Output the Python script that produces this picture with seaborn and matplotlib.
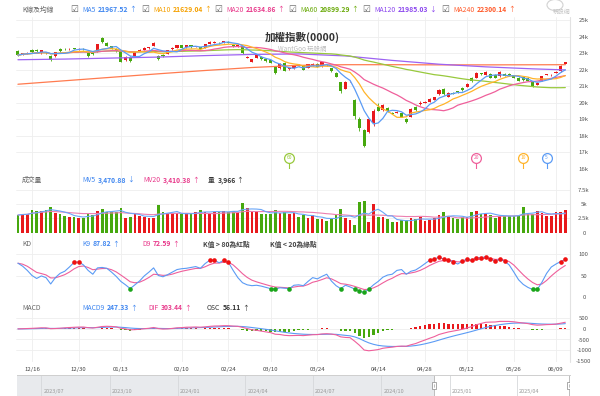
import numpy as np
import pandas as pd
import matplotlib
matplotlib.use("Agg")
import matplotlib.pyplot as plt
import matplotlib.transforms as mtransforms
from matplotlib.patches import Rectangle, Ellipse
import seaborn as sns

# 加權指數 daily bars
dates = [
    "2024-12-11", "2024-12-12", "2024-12-13", "2024-12-16", "2024-12-17", "2024-12-18", "2024-12-19", "2024-12-20",
    "2024-12-23", "2024-12-24", "2024-12-25", "2024-12-26", "2024-12-27", "2024-12-30", "2024-12-31",
    "2025-01-02", "2025-01-03", "2025-01-06", "2025-01-07", "2025-01-08", "2025-01-09", "2025-01-10",
    "2025-01-13", "2025-01-14", "2025-01-15", "2025-01-16", "2025-01-17", "2025-01-20", "2025-01-21", "2025-01-22",
    "2025-02-03", "2025-02-04", "2025-02-05", "2025-02-06", "2025-02-07", "2025-02-10", "2025-02-11", "2025-02-12",
    "2025-02-13", "2025-02-14", "2025-02-17", "2025-02-18", "2025-02-19", "2025-02-20", "2025-02-21",
    "2025-02-24", "2025-02-25", "2025-02-26", "2025-02-27",
    "2025-03-03", "2025-03-04", "2025-03-05", "2025-03-06", "2025-03-07", "2025-03-10", "2025-03-11", "2025-03-12",
    "2025-03-13", "2025-03-14", "2025-03-17", "2025-03-18", "2025-03-19", "2025-03-20", "2025-03-21",
    "2025-03-24", "2025-03-25", "2025-03-26", "2025-03-27", "2025-03-28", "2025-03-31",
    "2025-04-01", "2025-04-02", "2025-04-07", "2025-04-08", "2025-04-09", "2025-04-10", "2025-04-11",
    "2025-04-14", "2025-04-15", "2025-04-16", "2025-04-17", "2025-04-18", "2025-04-21", "2025-04-22",
    "2025-04-23", "2025-04-24", "2025-04-25", "2025-04-28", "2025-04-29", "2025-04-30",
    "2025-05-02", "2025-05-05", "2025-05-06", "2025-05-07", "2025-05-08", "2025-05-09", "2025-05-12",
    "2025-05-13", "2025-05-14", "2025-05-15", "2025-05-16", "2025-05-19", "2025-05-20", "2025-05-21",
    "2025-05-22", "2025-05-23", "2025-05-26", "2025-05-27", "2025-05-28", "2025-05-29",
    "2025-06-02", "2025-06-03", "2025-06-04", "2025-06-05", "2025-06-06", "2025-06-09", "2025-06-10", "2025-06-11",
]

open_ = [
    23120, 22900, 22960, 23200, 23180, 22980, 23050, 22820, 22820, 23260,
    23250, 23220, 23260, 23230, 23260, 23000, 23020, 23080, 23900, 23620,
    23400, 23250, 23060, 22560, 22760, 22800, 23150, 23200, 23300, 23430,
    22850, 22880, 22950, 23230, 23320, 23460, 23340, 23480, 23380, 23360,
    23300, 23560, 23640, 23640, 23610, 23700, 23520, 23380, 23420, 22720,
    22480, 22700, 22760, 22640, 22560, 22200, 22080, 22400, 22020, 22080,
    22280, 22260, 22100, 22260, 22360, 22200, 22300, 22100, 21820, 21260,
    20860, 21290, 20150, 19050, 18350, 18250, 18750, 19760, 19560, 19700,
    19370, 19400, 19360, 19020, 19160, 19760, 19950, 20000, 20060, 20180,
    20520, 20850, 20360, 20600, 20700, 20900, 20960, 21510, 21520, 21780,
    21700, 21760, 21700, 21600, 21760, 21760, 21660, 21520, 21540, 21520,
    21260, 21100, 21320, 21680, 21660, 21800, 21900, 22360,
]
high = [
    23180, 23020, 23060, 23240, 23220, 23200, 23080, 22860, 23060, 23290,
    23280, 23290, 23300, 23300, 23290, 23050, 23060, 23580, 23980, 23660,
    23430, 23290, 23080, 22820, 22800, 23070, 23220, 23350, 23360, 23680,
    22900, 22920, 23190, 23360, 23510, 23490, 23510, 23510, 23450, 23390,
    23570, 23740, 23720, 23680, 23760, 23740, 23550, 23500, 23450, 22840,
    22660, 22900, 22800, 22680, 22600, 22250, 22380, 22460, 22130, 22290,
    22320, 22290, 22350, 22380, 22390, 22470, 22340, 22130, 21850, 21280,
    21300, 21340, 20200, 19150, 18420, 19050, 19600, 20000, 19900, 19740,
    19420, 19480, 19400, 19060, 19690, 19800, 20100, 20100, 20280, 20350,
    20830, 20880, 20660, 20640, 20740, 20940, 21180, 21540, 21830, 21820,
    21900, 21790, 21730, 21890, 21790, 21790, 21690, 21550, 21570, 21550,
    21280, 21240, 21630, 21760, 21720, 21900, 22280, 22480,
]
low = [
    22840, 22860, 22920, 23000, 23060, 22950, 22960, 22520, 22780, 23090,
    23190, 23200, 23220, 23210, 23190, 22790, 22880, 23060, 23620, 23400,
    23230, 23060, 22440, 22530, 22480, 22780, 23120, 23180, 23270, 23410,
    22580, 22740, 22920, 23210, 23300, 23300, 23320, 23330, 23350, 23210,
    23280, 23540, 23620, 23570, 23590, 23590, 23390, 23350, 22960, 22680,
    22440, 22680, 22590, 22490, 22400, 21740, 22040, 21900, 21980, 22050,
    22210, 21970, 22080, 22230, 22150, 22180, 22220, 21870, 21540, 20620,
    20820, 21240, 19050, 18300, 17300, 18200, 18600, 19480, 19520, 19440,
    19300, 19360, 19120, 18780, 19130, 19520, 19850, 19960, 20030, 20150,
    20490, 20480, 20320, 20500, 20600, 20740, 20930, 21280, 21490, 21700,
    21670, 21470, 21470, 21570, 21590, 21630, 21490, 21290, 21330, 21290,
    20950, 21080, 21300, 21650, 21630, 21770, 21880, 22340,
]
close = [
    22880, 22980, 23020, 23040, 23100, 23160, 23000, 22560, 23040, 23120,
    23220, 23260, 23250, 23270, 23220, 22830, 22920, 23540, 23650, 23440,
    23260, 23100, 22480, 22780, 22520, 23040, 23180, 23320, 23320, 23600,
    22620, 22800, 23160, 23330, 23480, 23330, 23480, 23360, 23420, 23240,
    23540, 23700, 23680, 23600, 23730, 23620, 23420, 23470, 23000, 22780,
    22620, 22860, 22620, 22520, 22430, 21780, 22340, 21940, 22080, 22260,
    22250, 22000, 22320, 22340, 22180, 22440, 22260, 21900, 21580, 20700,
    21260, 21300, 19230, 18460, 17390, 19000, 19530, 19520, 19850, 19480,
    19350, 19430, 19160, 18830, 19650, 19560, 20000, 20060, 20250, 20320,
    20790, 20520, 20610, 20540, 20640, 20780, 21150, 21320, 21800, 21740,
    21860, 21500, 21500, 21860, 21620, 21660, 21520, 21320, 21360, 21320,
    20990, 21200, 21600, 21720, 21680, 21860, 22250, 22440,
]
# 成交量 (億)
volume = [
    3100, 3290, 3290, 4000, 3880, 3880, 4000, 4500, 3400, 3230,
    2940, 2820, 2700, 2640, 2640, 3520, 3100, 3880, 4170, 3700,
    3700, 3580, 4300, 2640, 2820, 3230, 3000, 2820, 2530, 2640,
    4880, 3700, 3400, 3230, 3400, 3230, 3400, 3400, 3700, 4000,
    3700, 3400, 3700, 3700, 3820, 3700, 3820, 3700, 5170, 4300,
    3880, 3700, 3290, 3290, 3290, 4000, 3400, 3580, 3230, 3400,
    2840, 3100, 2650, 3100, 2400, 2400, 2050, 2530, 3100, 4170,
    2650, 2230, 1350, 5350, 5570, 1840, 5000, 2840, 2700, 2400,
    1840, 1840, 2230, 2230, 2530, 2400, 2700, 2050, 2230, 2530,
    3100, 3700, 2840, 2650, 2400, 2840, 2840, 3700, 3880, 3240,
    3240, 3100, 2650, 3000, 2940, 3000, 3000, 3000, 4470, 3400,
    3300, 3820, 3400, 3000, 2900, 3700, 3700, 3966,
]
# K9 as drawn on the chart
k9 = [
    79, 72, 62, 50, 43, 49, 45, 30, 45, 55,
    60, 70, 81, 82, 75, 62, 53, 68, 69, 67,
    58, 48, 36, 28, 19, 28, 37, 49, 58, 68,
    50, 47, 52, 58, 64, 66, 67, 69, 71, 67,
    78, 86, 86, 80, 86, 81, 62, 45, 33, 28,
    26, 27, 25, 22, 19, 18, 21, 20, 19, 27,
    28, 26, 36, 45, 42, 48, 53, 37, 26, 19,
    27, 23, 18, 13, 10, 18, 28, 36, 46, 51,
    53, 62, 64, 53, 60, 63, 70, 78, 86, 89,
    93, 89, 86, 83, 77, 84, 89, 86, 92, 92,
    94, 89, 84, 88, 84, 75, 58, 40, 29, 22,
    17, 17, 34, 55, 70, 77, 83, 87.82,
]

# MA120 / MA240 read every 10 bars (their history starts before the window)
ma120_pts = [22600, 22640, 22700, 22760, 22850, 22920, 22950, 22830, 22560, 22330, 22170, 22050, 21985]
ma240_pts = [21120, 21330, 21540, 21750, 21950, 22130, 22260, 22300, 22300, 22290, 22290, 22295, 22300]

tick_dates = ["2024-12-16", "2024-12-30", "2025-01-13", "2025-02-10", "2025-02-24", "2025-03-10",
              "2025-03-24", "2025-04-14", "2025-04-28", "2025-05-12", "2025-05-26", "2025-06-09"]

ma_names = ["MA5", "MA10", "MA20", "MA60", "MA120", "MA240"]
ma_values = ["21967.52", "21629.04", "21634.86", "20899.29", "21985.03", "22300.14"]
ma_trend = ["↑", "↑", "↑", "↑", "↓", "↑"]
vol_names = ["MV5", "MV20", "量"]
vol_values = ["3,470.88", "3,410.38", "3,966"]
vol_trend = ["↓", "↑", "↑"]
kd_names = ["K9", "D9"]
kd_values = ["87.82", "72.59"]
kd_trend = ["↑", "↑"]
macd_names = ["MACD9", "DIF", "OSC"]
macd_values = ["247.33", "303.44", "56.11"]
macd_trend = ["↑", "↑", "↑"]
deduct_windows = [60, 20, 10, 5]

nav_range = ["2023-05-29", "2025-06-12"]
nav_labels = ["2023/07", "2023/10", "2024/01", "2024/04", "2024/07", "2024/10", "2025/01", "2025/04"]

# ---- style ----
sns.set_theme(style="white")
plt.rcParams["font.family"] = ["Noto Sans CJK TC", "DejaVu Sans"]
plt.rcParams["axes.unicode_minus"] = False

RED, GREEN = "#e8191c", "#46a80e"
line_col = {"MA5": "#5b9bf5", "MA10": "#ffb42a", "MA20": "#ef5f9b", "MA60": "#98c93c",
            "MA120": "#9d63f2", "MA240": "#ff7b4f"}
text_col = {"MA5": "#3d85f0", "MA10": "#f5a000", "MA20": "#e8388a", "MA60": "#6aaa0a",
            "MA120": "#8a45ee", "MA240": "#ff5a2a"}
BLUE, PINK, DARK = "#3d85f0", "#e8388a", "#333333"
HEAD = 4.9

# ---- indicators ----
df = pd.DataFrame({"date": pd.to_datetime(dates), "open": open_, "high": high,
                   "low": low, "close": close, "volume": volume, "K": k9})
n = len(df)
df["x"] = np.arange(n)
df["up"] = df["close"] >= df["open"]
for w in (5, 10, 20, 60):
    df[f"MA{w}"] = df["close"].rolling(w, min_periods=1).mean()
long_ma = pd.DataFrame({"x": list(range(0, n, 10)) + [n - 1], "MA120": ma120_pts, "MA240": ma240_pts})

df["MV5"] = df["volume"].rolling(5, min_periods=1).mean()
df["MV20"] = df["volume"].rolling(20, min_periods=1).mean()

df["D"] = df["K"].ewm(alpha=1 / 3, adjust=False).mean()

ema12 = df["close"].ewm(span=12, adjust=False).mean()
ema26 = df["close"].ewm(span=26, adjust=False).mean()
df["DIF"] = ema12 - ema26
df["MACD"] = df["DIF"].ewm(span=9, adjust=False).mean()
df["OSC"] = df["DIF"] - df["MACD"]

tick_idx = [dates.index(t) for t in tick_dates]
tick_lab = [t[5:].replace("-", "/") for t in tick_dates]

# ---- figure ----
W, H = 600, 396
L, R = 15.6, 570.0
XMIN, XMAX = -0.5, n
fig = plt.figure(figsize=(6, 3.96), dpi=100)
fig.patch.set_facecolor("white")


def rect(top, bottom, left=L, right=R):
    return [left / W, 1 - bottom / H, (right - left) / W, (bottom - top) / H]


def ftext(x, y, s, color="#666666", bold=False, size=HEAD, **kw):
    return fig.text(x / W, 1 - y / H, s, color=color, fontsize=size,
                    fontweight="bold" if bold else "normal", va="center", ha="left", **kw)


bg = fig.add_axes(rect(17, 362))
bg.set_xlim(XMIN, XMAX)
bg.set_ylim(0, 1)
bg.axis("off")
for i in tick_idx:
    bg.axvline(i, color="#eeeeee", lw=0.6)
bg.axvline(XMAX, color="#e2e2e2", lw=0.8, clip_on=False)


def panel(top, bottom, ticks, labels, ylim):
    ax = fig.add_axes(rect(top, bottom))
    ax.set_facecolor("none")
    ax.set_xlim(XMIN, XMAX)
    ax.set_ylim(*ylim)
    ax.set_yticks(ticks, labels=labels)
    ax.yaxis.tick_right()
    ax.tick_params(axis="y", length=0, pad=10, labelsize=4.3, labelcolor="#555555")
    ax.tick_params(axis="x", length=0, labelbottom=False)
    ax.set_xticks([])
    ax.grid(axis="y", color="#eeeeee", lw=0.6)
    for s in ax.spines.values():
        s.set_visible(False)
    plt.setp(ax.get_yticklabels(), ha="center")
    return ax


# price panel
price_ticks = list(range(16000, 25001, 1000))
ax_p = panel(20, 169, price_ticks, [f"{v // 1000}k" for v in price_ticks], (16000, 25000))
cols = np.where(df["up"], RED, GREEN)
body_lo = np.minimum(df["open"], df["close"])
body_h = np.maximum((df["close"] - df["open"]).abs(), 40)
ax_p.vlines(df["x"], df["low"], df["high"], colors=cols, lw=0.6, zorder=2)
ax_p.bar(df["x"], body_h, bottom=body_lo, width=0.66, color=cols, lw=0, zorder=3)
for name in ["MA240", "MA120"]:
    sns.lineplot(data=long_ma, x="x", y=name, ax=ax_p, color=line_col[name], linewidth=0.9, zorder=4)
for name in ["MA60", "MA20", "MA10", "MA5"]:
    sns.lineplot(data=df, x="x", y=name, ax=ax_p, color=line_col[name], linewidth=0.9, zorder=4)
ax_p.set(xlabel="", ylabel="")

trans = mtransforms.blended_transform_factory(ax_p.transData, ax_p.transAxes)
for w in deduct_windows:
    c = line_col[f"MA{w}"]
    i = n - w
    ax_p.plot([i, i], [0, 0.045], transform=trans, color=c, lw=0.8, zorder=5)
    ax_p.scatter([i], [0.074], s=50, transform=trans, facecolor="white", edgecolor=c, lw=0.9, zorder=6)
    ax_p.text(i, 0.074, str(w), transform=trans, ha="center", va="center",
              fontsize=3.6, color=c, zorder=7)
ax_p.set_xlim(XMIN, XMAX)
ax_p.set_ylim(16000, 25000)

fig.text(302 / W, 1 - 37 / H, "加權指數(0000)", ha="center", va="center",
         fontsize=7.6, fontweight="bold", color="#333333")
fig.text(302 / W, 1 - 49 / H, "WantGoo 玩股網", ha="center", va="center",
         fontsize=4.6, color="#bdbdbd")

# volume panel
ax_v = panel(190, 232.7, [0, 2500, 5000, 7500], ["0", "2.5k", "5k", "7.5k"], (0, 7500))
ax_v.bar(df["x"], df["volume"], width=0.58, color=cols, lw=0, zorder=2)
sns.lineplot(data=df, x="x", y="MV20", ax=ax_v, color="#ec7fb0", linewidth=0.8, zorder=3)
sns.lineplot(data=df, x="x", y="MV5", ax=ax_v, color="#6aa6f8", linewidth=0.8, zorder=3)
ax_v.set(xlabel="", ylabel="")
ax_v.set_ylim(0, 7500)

# KD panel
ax_k = panel(254.3, 296.7, [0, 50, 100], ["0", "50", "100"], (0, 100))
sns.lineplot(data=df, x="x", y="D", ax=ax_k, color="#ef5f9b", linewidth=0.8)
sns.lineplot(data=df, x="x", y="K", ax=ax_k, color="#5b9bf5", linewidth=0.8)
sns.scatterplot(data=df[df["K"] > 80], x="x", y="K", ax=ax_k, color="#f01010", s=11, linewidth=0, zorder=5)
sns.scatterplot(data=df[df["K"] < 20], x="x", y="K", ax=ax_k, color="#1aa51a", s=11, linewidth=0, zorder=5)
ax_k.set(xlabel="", ylabel="")
ax_k.set_ylim(0, 100)

# MACD panel
ax_m = panel(318.3, 360.7, [-1500, -1000, -500, 0, 500],
             ["-1500", "-1000", "-500", "0", "500"], (-1500, 500))
ax_m.bar(df["x"], df["OSC"], width=0.5, color=np.where(df["OSC"] >= 0, RED, GREEN), lw=0, zorder=2)
sns.lineplot(data=df, x="x", y="MACD", ax=ax_m, color="#5b9bf5", linewidth=0.8, zorder=3)
sns.lineplot(data=df, x="x", y="DIF", ax=ax_m, color="#ef5f9b", linewidth=0.8, zorder=3)
ax_m.set(xlabel="", ylabel="")
ax_m.set_ylim(-1500, 500)
ax_m.set_xlim(XMIN, XMAX)
ax_m.set_xticks(tick_idx, labels=tick_lab)
ax_m.tick_params(axis="x", labelbottom=True, labelsize=4.3, labelcolor="#444444", pad=4.5, length=0)

# navigator
nav = fig.add_axes(rect(375, 396, left=16.7, right=570))
n0, n1 = pd.to_datetime(nav_range[0]), pd.to_datetime(nav_range[1])
nav.set_xlim(n0, n1)
nav.set_ylim(0, 1)
nav.set_xticks([])
nav.set_yticks([])
for s in nav.spines.values():
    s.set_visible(False)
nav.spines["top"].set_visible(True)
nav.spines["top"].set_color("#cfcfcf")
nav.spines["top"].set_linewidth(0.7)
sel0, sel1 = df["date"].iloc[0], df["date"].iloc[-1]
nav.axvspan(n0, sel0, color="#e8eaed", lw=0)
for lab in nav_labels:
    dd = pd.to_datetime(lab.replace("/", "-") + "-01")
    nav.axvline(dd, color="#d6d8db", lw=0.6)
    nav.text(dd + pd.Timedelta(days=3), 0.21, lab, fontsize=4, color="#999999", va="center", ha="left")
for edge in (sel0, sel1):
    nav.axvline(edge, color="#bdbdbd", lw=0.7)
    nav.add_patch(Rectangle((edge - pd.Timedelta(days=2.8), 0.33), pd.Timedelta(days=5.6), 0.34,
                            facecolor="white", edgecolor="#888888", lw=0.5, zorder=5))
    nav.plot([edge, edge], [0.42, 0.58], color="#888888", lw=0.4, zorder=6)

# ---- header rows: label, bold value, arrow placed one after another ----
renderer = fig.canvas.get_renderer()


def group(x, y, name, val, arrow, color):
    for s, bold, gap in ((name, False, 2.6), (val, True, 1.0), (arrow, False, 0)):
        t = ftext(x, y, s, color=color, bold=bold)
        x = t.get_window_extent(renderer=renderer).x1 + gap


ftext(22, 9.5, "K線及均線")
for bx, name, val, tr in zip([71, 142, 215, 289, 363, 442], ma_names, ma_values, ma_trend):
    ftext(bx - 0.5, 9.5, "☑", color="#666666", size=6.3, family="DejaVu Sans")
    group(bx + 11, 9.5, name, val, tr, text_col[name])

ftext(22, 180, "成交量")
for x0, name, val, tr, c in zip([82, 143, 208], vol_names, vol_values, vol_trend, [BLUE, PINK, DARK]):
    group(x0, 180, name, val, tr, c)

ftext(22, 244, "KD")
for x0, name, val, tr, c in zip([82, 142], kd_names, kd_values, kd_trend, [BLUE, PINK]):
    group(x0, 244, name, val, tr, c)
ftext(203, 244, "K值 > 80為紅點", color="#444444", bold=True)
ftext(270, 244, "K值 < 20為綠點", color="#444444", bold=True)

ftext(22, 308, "MACD")
for x0, name, val, tr, c in zip([82, 148, 207], macd_names, macd_values, macd_trend, [BLUE, PINK, DARK]):
    group(x0, 308, name, val, tr, c)

# WantGoo logo (top right)
fig.patches.append(Ellipse((555 / W, 1 - 5 / H), 16 / W, 11 / H, transform=fig.transFigure,
                           fill=False, ec="#d2d2d2", lw=0.8))
ftext(553, 12.5, "玩股網", color="#c4c4c4", size=4.2)

fig.savefig("out.png", dpi=100)
